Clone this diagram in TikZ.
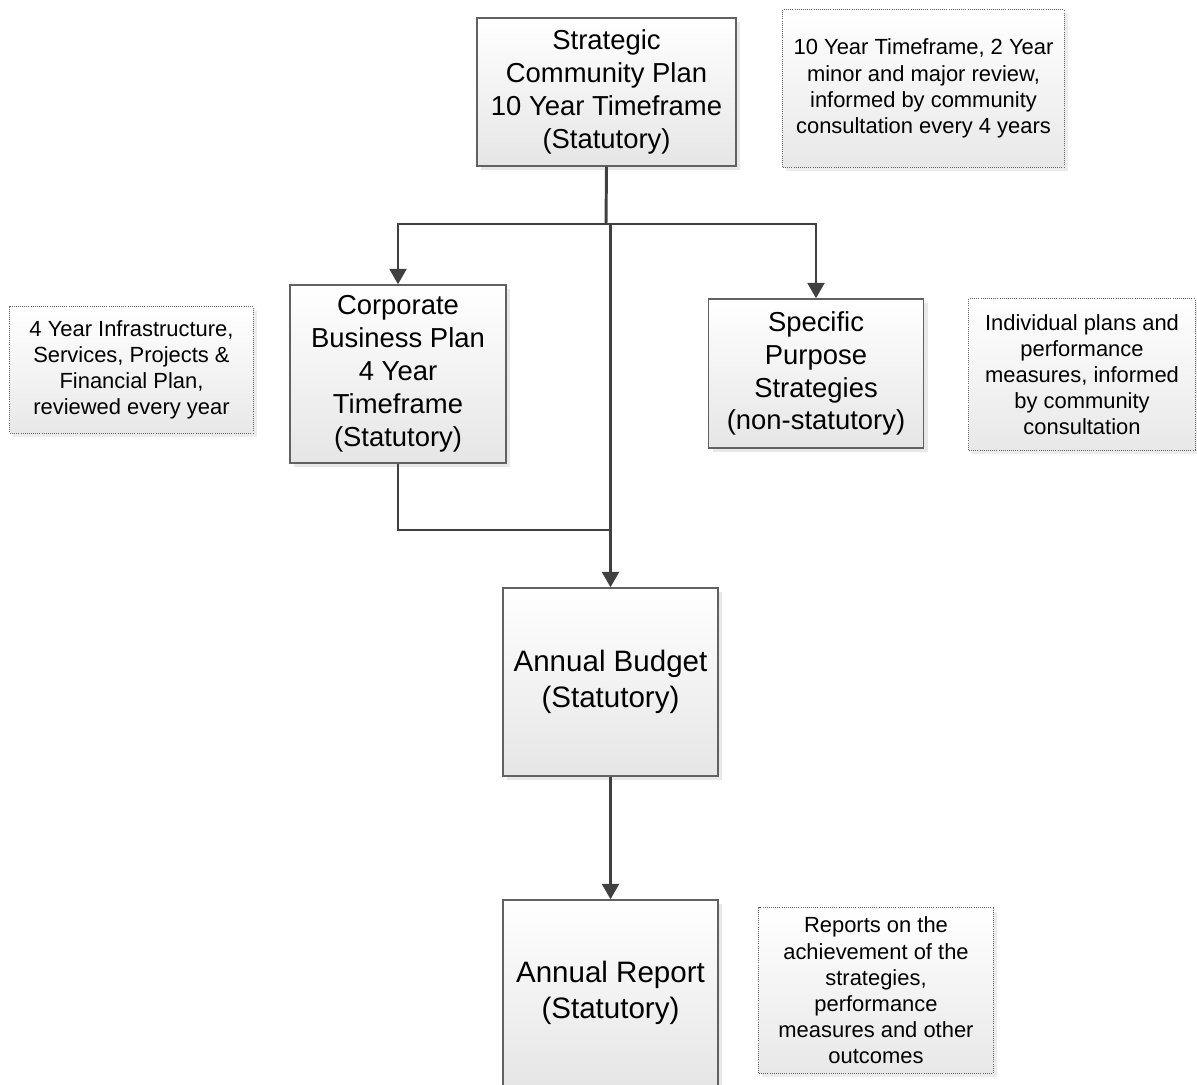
\documentclass[tikz,border=0pt]{standalone}
\usepackage{fontspec}
\setmainfont{Liberation Sans}
\usetikzlibrary{arrows.meta,shadows,positioning}
\newcommand{\planfont}{\fontsize{19.5}{23.4}\selectfont}
\newcommand{\bigplanfont}{\fontsize{21}{25.6}\selectfont}
\newcommand{\notefont}{\fontsize{15.6}{18.6}\selectfont}
\tikzstyle{planbox}=[rectangle, draw=black!62, line width=1pt, top color=white, bottom color=black!10, drop shadow={shadow xshift=3pt, shadow yshift=-3pt, fill=black!18}, align=center, inner sep=0pt, anchor=center, font=\planfont]
\tikzstyle{note}=[rectangle, draw=black!60, line width=0.7pt, dash pattern=on 0.7pt off 0.8pt, top color=white, bottom color=black!9, drop shadow={shadow xshift=2.5pt, shadow yshift=-2.5pt, fill=black!15}, align=center, inner sep=0pt, anchor=center, font=\notefont]
\tikzstyle{link}=[draw=black!75, line width=2.1pt]
\tikzstyle{arr}=[link, -{Triangle[width=12pt,length=11pt]}]

\begin{document}
\begin{tikzpicture}[x=0.025cm, y=-0.025cm]
	\clip (0,0) rectangle (1197,1085);

	% plans
	\node[planbox, minimum width=6.475cm, minimum height=3.7cm](scp) at (606.5,92){Strategic\\Community Plan\\10 Year Timeframe\\(Statutory)};
	\node[planbox, minimum width=5.4cm, minimum height=4.45cm](cbp) at (398,374){Corporate\\Business Plan\\4 Year\\Timeframe\\(Statutory)};
	\node[planbox, minimum width=5.375cm, minimum height=3.725cm](sps) at (816,373.5){Specific\\Purpose\\Strategies\\(non-statutory)};
	\node[planbox, font=\bigplanfont, minimum width=5.375cm, minimum height=4.7cm](ab) at (610.5,682){Annual Budget\\(Statutory)};
	\node[planbox, font=\bigplanfont, minimum width=5.375cm, minimum height=4.65cm](ar) at (610.5,993){Annual Report\\(Statutory)};

	% notes
	\node[note, minimum width=7.025cm, minimum height=3.925cm](scpnote) at (923.5,88.5){10 Year Timeframe, 2 Year\\minor and major review,\\informed by community\\consultation every 4 years};
	\node[note, minimum width=6.075cm, minimum height=3.15cm](cbpnote) at (131.5,370){4 Year Infrastructure,\\Services, Projects \&\\Financial Plan,\\reviewed every year};
	\node[note, minimum width=5.65cm, minimum height=3.775cm](spsnote) at (1082,374.5){Individual plans and\\performance\\measures, informed\\by community\\consultation};
	\node[note, minimum width=5.85cm, minimum height=4.125cm](arnote) at (876,990.5){Reports on the\\achievement of the\\strategies,\\performance\\measures and other\\outcomes};

	% connectors
	\coordinate (fork) at (606,224);
	\coordinate (trunk) at (ab.north |- fork);
	\coordinate (merge) at (610.5,530);
	\draw[link] (scp.south) -- (fork);
	\draw[arr] (fork) -| (cbp.north);
	\draw[arr] (fork) -| (sps.north);
	\draw[arr] (trunk) -- (ab.north);
	\draw[link] (cbp.south) |- (merge);
	\draw[arr] (ab.south) -- (ar.north);
\end{tikzpicture}
\end{document}
